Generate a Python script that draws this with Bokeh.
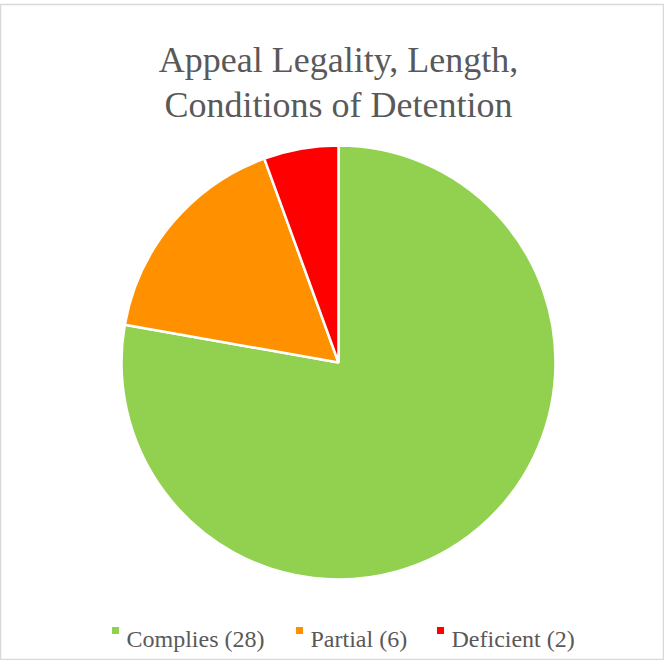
import math
from bokeh.plotting import figure
from bokeh.models import Range1d, ColumnDataSource
from bokeh.core.properties import value
from bokeh.embed import file_html
from bokeh.resources import INLINE

title_lines = ["Appeal Legality, Length,", "Conditions of Detention"]
categories = ["Complies", "Partial", "Deficient"]
counts = [28, 6, 2]
colors = ["#92D050", "#FF9100", "#FF0000"]
legend_labels = [f"{c} ({n})" for c, n in zip(categories, counts)]

total = sum(counts)
starts, ends = [], []
cum = 0
for n in counts:
    starts.append(math.pi / 2 - 2 * math.pi * cum / total)
    cum += n
    ends.append(math.pi / 2 - 2 * math.pi * cum / total)

FONT = value("Times")

p = figure(width=664, height=660, output_backend="svg", toolbar_location=None,
           x_range=Range1d(8, 672), y_range=Range1d(668, 12),
           min_border_left=0, min_border_right=0, min_border_bottom=0, min_border_top=4)
p.axis.visible = False
p.grid.visible = False
p.outline_line_color = "#D9D9D9"
p.outline_line_width = 1.5

src = ColumnDataSource(dict(start=starts, end=ends, color=colors))
p.wedge(x=346, y=370, radius=217, start_angle="start", end_angle="end",
        direction="clock", fill_color="color", line_color="white", line_width=2.5,
        source=src)

title_y = [67, 112]
for line, ty in zip(title_lines, title_y):
    p.text(x=[346], y=[ty], text=[line], text_align="center",
           text_baseline="alphabetic", text_font=FONT,
           text_font_size="36px", text_color="#595959")

leg_x = [123, 307, 448]
p.scatter(x=leg_x, y=[638] * 3, marker="square", size=7, fill_color=colors,
          line_color=None)
for lx, lab in zip(leg_x, legend_labels):
    p.text(x=[lx + 11], y=[646], text=[lab],
           text_align="left", text_baseline="alphabetic",
           text_font=FONT, text_font_size="24px",
           text_color="#595959")

open("out.html", "w").write(file_html(p, INLINE))
